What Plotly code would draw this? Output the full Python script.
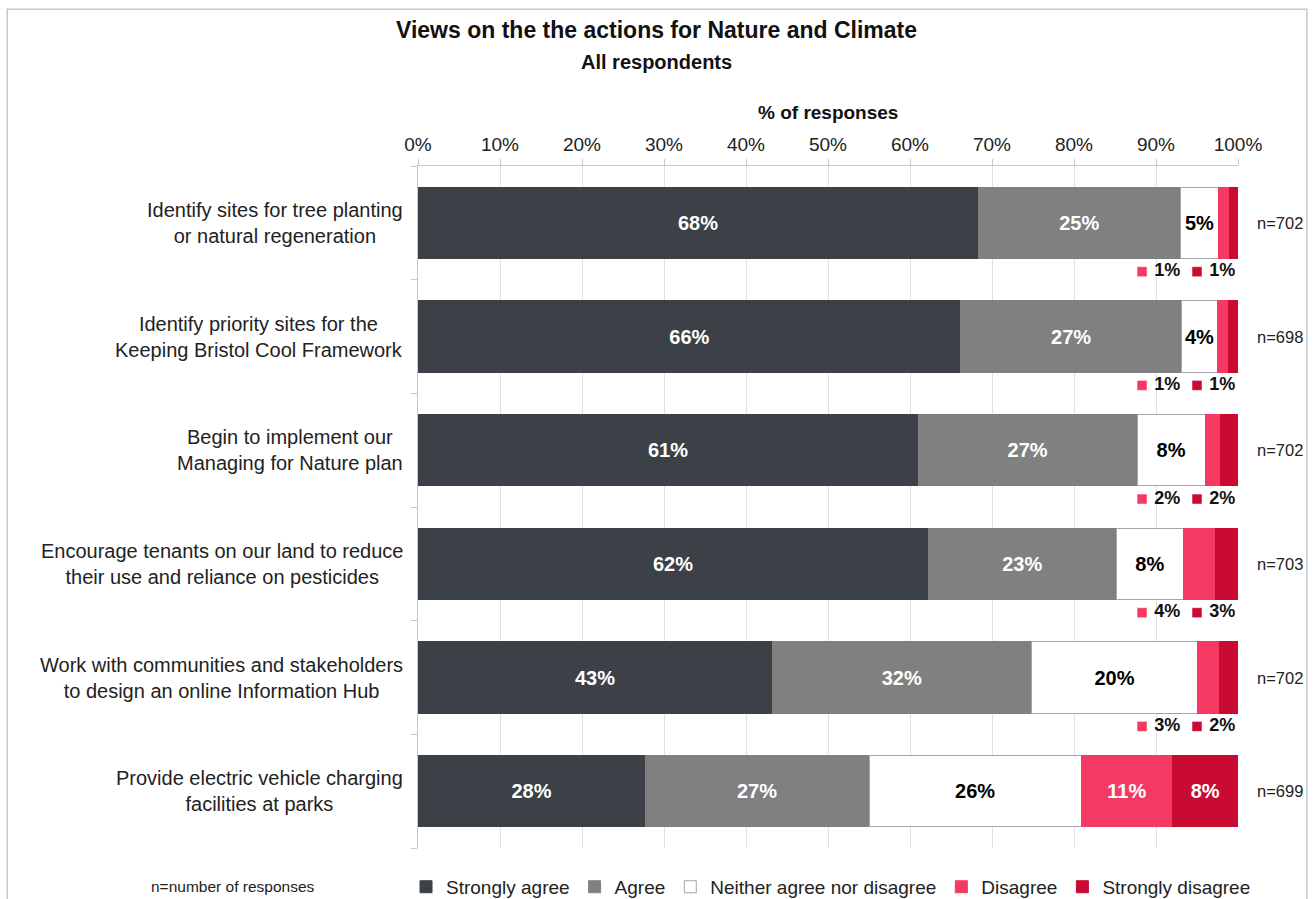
import plotly.graph_objects as go

# Survey statements (top to bottom) and number of responses
statements = [
    "Identify sites for tree planting<br>or natural regeneration",
    "Identify priority sites for the<br>Keeping Bristol Cool Framework",
    "Begin to implement our<br>Managing for Nature plan",
    "Encourage tenants on our land to reduce<br>their use and reliance on pesticides",
    "Work with communities and stakeholders<br>to design an online Information Hub",
    "Provide electric vehicle charging<br>facilities at parks",
]
responses = [702, 698, 702, 703, 702, 699]

# Share of responses (%) for each answer
strongly_agree = [68.3, 66.2, 61.0, 62.2, 43.2, 27.7]
agree = [24.7, 26.9, 26.7, 23.0, 31.6, 27.3]
neither = [4.6, 4.4, 8.3, 8.1, 20.3, 25.9]
disagree = [1.4, 1.4, 1.9, 3.9, 2.6, 11.1]
strongly_disagree = [1.0, 1.1, 2.1, 2.8, 2.3, 8.0]

x_ticks = list(range(0, 101, 10))

series = [
    ("Strongly agree", strongly_agree, "#3c4047", "white"),
    ("Agree", agree, "#808080", "white"),
    ("Neither agree nor disagree", neither, "#ffffff", "black"),
    ("Disagree", disagree, "#f43a63", "white"),
    ("Strongly disagree", strongly_disagree, "#c90a33", "white"),
]

FONT = "Liberation Sans, Arial, sans-serif"
INSIDE_MIN = 4  # segments narrower than this get their label under the bar

rows = list(range(len(statements)))
fig = go.Figure()

for name, vals, color, tcolor in series:
    texts = [f"{v:.0f}%" if v >= INSIDE_MIN else "" for v in vals]
    fig.add_trace(go.Bar(
        name=name, x=vals, y=rows, orientation="h",
        marker=dict(color=color,
                    line=dict(color="#a6a6a6" if color == "#ffffff" else color, width=1)),
        text=texts, textposition="inside", insidetextanchor="middle",
        textangle=0, constraintext="none",
        textfont=dict(family=FONT, size=20, color=tcolor, weight="bold"),
        hoverinfo="skip",
    ))

# Small segments: key square plus value, placed under the bar
for (name, vals, color, _), xpos in zip(series[3:], [88.3, 95.0]):
    idx = [i for i, v in enumerate(vals) if v < INSIDE_MIN]
    fig.add_trace(go.Scatter(
        x=[xpos] * len(idx), y=[i + 0.43 for i in idx],
        mode="markers",
        marker=dict(symbol="square", size=10, color=color, line=dict(color="white", width=0.5)),
        showlegend=False, hoverinfo="skip", cliponaxis=False,
    ))
    fig.add_trace(go.Scatter(
        x=[xpos + 1.5] * len(idx), y=[i + 0.43 for i in idx],
        mode="text",
        text=[f"{vals[i]:.0f}%" for i in idx], textposition="middle right",
        textfont=dict(family=FONT, size=18, color="#111", weight="bold"),
        showlegend=False, hoverinfo="skip", cliponaxis=False,
    ))

annotations = []
for i, (s, n) in enumerate(zip(statements, responses)):
    annotations.append(dict(x=-0.0159, y=i, xref="paper", yref="y", text=s,
                            showarrow=False, align="center", xanchor="right",
                            yanchor="middle",
                            font=dict(family=FONT, size=20, color="#222")))
    annotations.append(dict(x=1.051, y=i, xref="paper", yref="y", text=f"n={n}",
                            showarrow=False, xanchor="center", yanchor="middle",
                            font=dict(family=FONT, size=16.5, color="#222")))

annotations += [
    dict(x=0.291, y=1.199, xref="paper", yref="paper", showarrow=False,
         xanchor="center", yanchor="middle",
         text="<b>Views on the the actions for Nature and Climate</b>",
         font=dict(family=FONT, size=23, color="#111")),
    dict(x=0.291, y=1.1525, xref="paper", yref="paper", showarrow=False,
         xanchor="center", yanchor="middle",
         text="<b>All respondents</b>", font=dict(family=FONT, size=20, color="#111")),
    dict(x=0.5, y=1.079, xref="paper", yref="paper", showarrow=False,
         xanchor="center", yanchor="middle",
         text="<b>% of responses</b>", font=dict(family=FONT, size=19, color="#111")),
    dict(x=-0.226, y=-0.057, xref="paper", yref="paper", showarrow=False,
         xanchor="center", yanchor="middle",
         text="n=number of responses", font=dict(family=FONT, size=15.5, color="#222")),
]

fig.update_layout(
    width=1313, height=899,
    margin=dict(l=418, r=75, t=166, b=51, autoexpand=False),
    paper_bgcolor="white", plot_bgcolor="white",
    barmode="stack", bargap=0.37,
    font=dict(family=FONT, color="#222"),
    showlegend=True,
    legend=dict(orientation="h", x=-0.0146, xanchor="left", y=-0.057, yanchor="middle",
                font=dict(family=FONT, size=19, color="#222"), traceorder="normal",
                itemwidth=30),
    annotations=annotations,
    shapes=[dict(type="rect", xref="paper", yref="paper",
                 x0=-0.501, x1=1.084, y0=-0.2, y1=1.230,
                 line=dict(color="#c8c8c8", width=1.5), layer="below")],
)

fig.update_xaxes(side="top", range=[0, 100], tickvals=x_ticks,
                 ticktext=[f"{t}%" for t in x_ticks],
                 tickfont=dict(family=FONT, size=19, color="#222"),
                 showline=True, linecolor="#c8c8c8", linewidth=1,
                 ticks="outside", ticklen=6, tickcolor="#c8c8c8",
                 showgrid=True, gridcolor="#e0e0e0", gridwidth=1, zeroline=False,
                 fixedrange=True)
fig.update_yaxes(range=[5.5, -0.5], tickvals=[i - 0.5 for i in range(7)],
                 showticklabels=False, showline=True, linecolor="#c8c8c8", linewidth=1,
                 ticks="outside", ticklen=6, tickcolor="#c8c8c8",
                 showgrid=False, zeroline=False, fixedrange=True)

fig.write_html("out.html")
